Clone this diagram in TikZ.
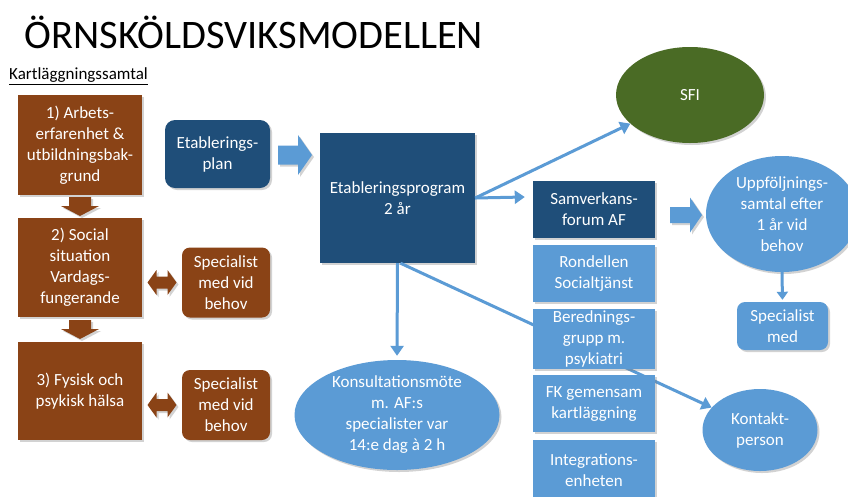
\documentclass[tikz,border=0pt]{standalone}
\usepackage{fontspec}
\setmainfont{Carlito}
\usetikzlibrary{shapes.geometric,arrows.meta,shadows,calc}
\definecolor{brn}{HTML}{8A4316}
\definecolor{dblue}{HTML}{1F4E79}
\definecolor{lblue}{HTML}{5B9BD5}
\definecolor{grn}{HTML}{4A6B25}
\tikzset{
  shd/.style={drop shadow={opacity=0.35,shadow xshift=2pt,shadow yshift=-2pt}},
  txt/.style={text=white,align=center,font=\fontsize{17}{21}\selectfont,inner sep=2pt},
  brbox/.style={txt,shd,fill=brn,minimum width=124pt},
  spbox/.style={txt,shd,fill=brn,rounded corners=8pt,minimum width=88pt,minimum height=70pt},
  dbbox/.style={txt,shd,fill=dblue},
  lbbox/.style={txt,shd,fill=lblue,minimum width=122pt,minimum height=57pt},
  ell/.style={txt,shd,ellipse,inner sep=0pt},
  conn/.style={draw=lblue,line width=3pt,-{Triangle[length=10pt,width=13pt]}}
}
% block arrow: center, angle, length, head width, shaft width, head length, colour
\newcommand\myblockarrow[7]{%
  \fill[#7,shd,shift={(#1)},rotate=#2]
    (-#3/2,-#5/2) -- (#3/2-#6,-#5/2) -- (#3/2-#6,-#4/2) -- (#3/2,0)
    -- (#3/2-#6,#4/2) -- (#3/2-#6,#5/2) -- (-#3/2,#5/2) -- cycle;}
% double block arrow: center, length, head width, shaft width, head length, colour
\newcommand\mydoublearrow[6]{%
  \fill[#6,shd,shift={(#1)}]
    (-#2/2,0) -- (-#2/2+#5,-#3/2) -- (-#2/2+#5,-#4/2) -- (#2/2-#5,-#4/2)
    -- (#2/2-#5,-#3/2) -- (#2/2,0) -- (#2/2-#5,#3/2) -- (#2/2-#5,#4/2)
    -- (-#2/2+#5,#4/2) -- (-#2/2+#5,#3/2) -- cycle;}
\begin{document}
\begin{tikzpicture}[x=1pt,y=-1pt]
\useasboundingbox[fill=white] (0,0) rectangle (848,496);
% title
\node[anchor=center,font=\fontsize{40.5}{46}\selectfont,inner sep=0pt] (title) at (254,32) {ÖRNSKÖLDSVIKSMODELLEN};
\node[anchor=west,font=\fontsize{17}{19}\selectfont,inner sep=0pt] (kart) at (9,76) {\underline{Kartläggningssamtal}};
% nodes drawn behind
\node[dbbox,minimum width=155pt,minimum height=130pt] (prog) at (397.5,198) {Etableringsprogram\\2 år};
\node[ell,fill=grn,minimum width=148pt,minimum height=96pt] (sfi) at (690,95) {SFI};
\node[ell,fill=lblue,minimum width=115pt,minimum height=82pt] (kp) at (760,430) {Kontakt-\\person};
\node[ell,fill=lblue,minimum width=205pt,minimum height=110pt] (kon) at (397,415) {Konsultationsmöte\\m. AF:s\\specialister var\\14:e dag à 2 h};
\coordinate (kps) at ($(prog.south)+(3,0)$);
\draw[conn] (kps) -- (kp);
% left column
\node[brbox,minimum height=100pt] (b1) at (80,145) {1) Arbets-\\erfarenhet \&\\utbildningsbak-\\grund};
\node[brbox,minimum height=99pt] (b2) at (80,267.5) {2) Social\\situation\\Vardags-\\fungerande};
\node[brbox,minimum height=98pt] (b3) at (80,391) {3) Fysisk och\\psykisk hälsa};
\node[spbox] (sp1) at (226,282.5) {Specialist\\med vid\\behov};
\node[spbox] (sp2) at (226,405) {Specialist\\med vid\\behov};
\coordinate (a12) at ($(b1.south)!0.5!(b2.north)$);
\coordinate (a23) at ($(b2.south)!0.5!(b3.north)$);
\myblockarrow{a12}{-90}{19}{38}{22}{10}{brn}
\myblockarrow{a23}{-90}{19}{38}{22}{10}{brn}
\coordinate (d1) at ($(b2.east |- sp1)!0.5!(sp1.west)$);
\coordinate (d2) at ($(b3.east |- sp2)!0.5!(sp2.west)$);
\mydoublearrow{d1}{29}{25}{12}{9}{brn}
\mydoublearrow{d2}{29}{25}{12}{9}{brn}
% etableringsplan
\node[dbbox,rounded corners=10pt,minimum width=105pt,minimum height=68pt] (etp) at (217.5,154) {Etablerings-\\plan};
\coordinate (aep) at (295,155);
\myblockarrow{aep}{0}{34}{40}{19}{14}{lblue}
% right column
\node[dbbox,minimum width=122pt,minimum height=57pt] (sam) at (594,209.5) {Samverkans-\\forum AF};
\node[lbbox] (ron) at (594,273.5) {Rondellen\\Socialtjänst};
\node[lbbox,minimum height=58pt] (ber) at (594,339) {Berednings-\\grupp m.\\psykiatri};
\node[lbbox] (fk) at (594,403.5) {FK gemensam\\kartläggning};
\node[lbbox,minimum height=60pt] (int) at (594,470) {Integrations-\\enheten};
\node[ell,fill=lblue,minimum width=152pt,minimum height=116pt] (upp) at (782,214) {Uppföljnings-\\samtal efter\\1 år vid\\behov};
\node[txt,shd,fill=lblue,rounded corners=8pt,minimum width=91pt,minimum height=48pt] (spm) at (782.5,326) {Specialist\\med};
\coordinate (asu) at (686,215);
\myblockarrow{asu}{0}{32}{35}{16}{12}{lblue}
% connectors
\coordinate (samend) at ($(sam.west |- prog.east)+(-8,-1)$);
\draw[conn] (prog.east) -- (samend);
\draw[conn] (prog.east) -- (sfi);
\draw[conn,shorten >=4pt] (prog.south) -- (kon.north);
\draw[conn,-{Triangle[length=8pt,width=11pt]},shorten >=2pt] (upp.south) -- (spm.north);
\end{tikzpicture}
\end{document}
